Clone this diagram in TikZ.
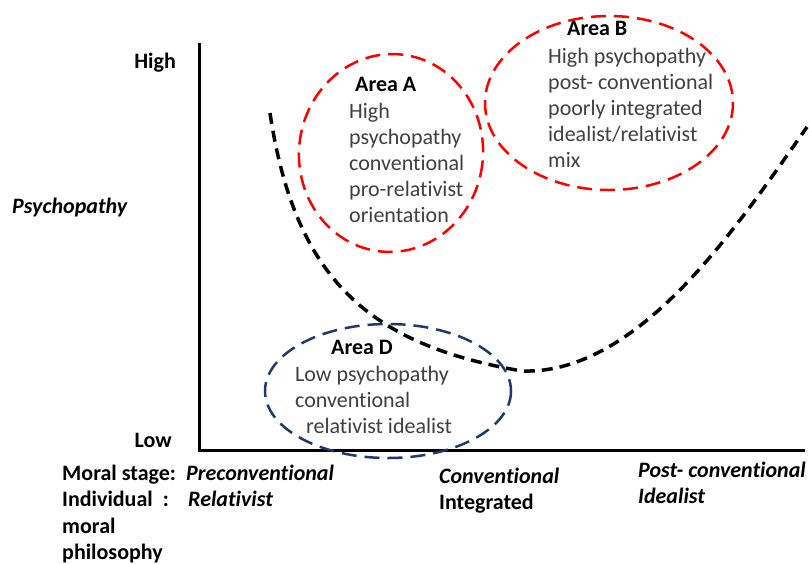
\documentclass[tikz,border=0pt]{standalone}
\usepackage{fontspec}
\setmainfont{Carlito}[Ligatures=NoCommon]
\usetikzlibrary{positioning}
\definecolor{areared}{RGB}{255,0,0}
\definecolor{areablue}{RGB}{31,56,110}
\definecolor{bodygray}{RGB}{64,64,64}

\begin{document}
\begin{tikzpicture}[x=1pt,y=-1pt,
  lbl/.style={font=\fontsize{22}{26.5}\selectfont\bfseries,inner sep=0pt,anchor=base west,align=left},
  lblit/.style={lbl,font=\fontsize{22}{26.5}\selectfont\bfseries\itshape},
  body/.style={font=\fontsize{22}{26}\selectfont,text=bodygray,inner sep=0pt,anchor=base west,align=left},
  ring/.style={line width=2.5pt,dash pattern=on 15pt off 8pt}]

  \useasboundingbox (0,0) rectangle (809,563);
  \fill[white] (0,0) rectangle (809,563);

  % axes
  \coordinate (ytop) at (199,43);
  \coordinate (origin) at (199,450);
  \coordinate (xend) at (805,450);
  \draw[line width=3pt] (ytop) -- (origin) -- (xend);

  % vertical axis labels
  \node[lbl,anchor=base east] (high) at (176,68) {High};
  \node[lbl,anchor=base east] (low) at (172,447) {Low};
  \node[lblit] (psy) at (12,213) {Psychopathy};

  % horizontal axis labels (base = last line)
  \node[lbl] (stage) at (62,559.5) {Moral stage:\\Individual\hspace{10pt}:\\moral\\philosophy};
  \node[lblit] (preconv) at (186,506.5) {Preconventional\\\hspace*{2pt}Relativist};
  \node[lblit] (conv) at (439,509.5) {Conventional\\\upshape Integrated};
  \node[lblit] (postconv) at (638,503.5) {Post- conventional\\Idealist};

  % psychopathy curve
  \coordinate (c0) at (270,113);
  \coordinate (cmin) at (522,371);
  \coordinate (c5) at (807,127);
  \draw[line width=3.5pt,dash pattern=on 11pt off 7pt]
    (c0) .. controls (295,280) and (370,345) .. (cmin)
         .. controls (640,375) and (740,222) .. (c5);

  % area A
  \draw[ring,areared] (391,153) ellipse [x radius=92,y radius=99,rotate=-6];
  \node[lbl] (titleA) at (355,91) {Area A};
  \node[body] (textA) at (349,222) {High\\psychopathy\\conventional\\pro-relativist\\orientation};

  % area B
  \draw[ring,areared] (609,103) ellipse [x radius=124,y radius=87];
  \node[lbl] (titleB) at (567,35) {Area B};
  \node[body] (textB) at (548,167) {High psychopathy\\post- conventional\\poorly integrated\\idealist/relativist\\mix};

  % area D
  \draw[ring,areablue] (388,391) ellipse [x radius=123,y radius=67];
  \node[lbl] (titleD) at (331,354) {Area D};
  \node[body] (textD) at (295,433) {Low psychopathy\\conventional\\\hspace*{11pt}relativist idealist};

\end{tikzpicture}
\end{document}
